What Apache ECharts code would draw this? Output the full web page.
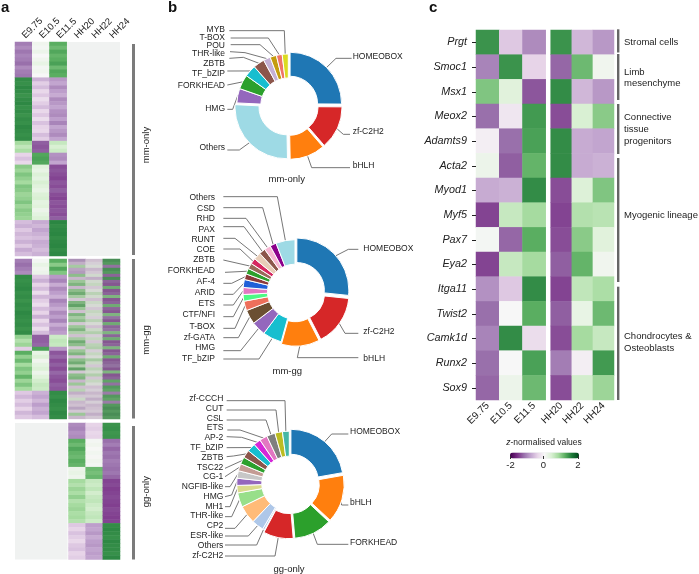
<!DOCTYPE html>
<html><head><meta charset="utf-8">
<script src="https://cdn.jsdelivr.net/npm/echarts@6/dist/echarts.min.js"></script>
<style>html,body{margin:0;padding:0;background:#fff}#c{width:699px;height:574px}</style></head>
<body><div id="c"></div>
<script>
// ---------- panel c data ----------
const genes = ['Prgt','Smoc1','Msx1','Meox2','Adamts9','Acta2','Myod1','Myf5','Pax7','Eya2','Itga11','Twist2','Camk1d','Runx2','Sox9'];
const mouseStages = ['E9.75','E10.5','E11.5'];
const chickStages = ['HH20','HH22','HH24'];
const cE975 = [1.4,-1.05,1.0,-1.2,-0.1,0.15,-0.75,-1.45,0.05,-1.45,-0.95,-1.2,-1.05,-1.2,-1.25];
const cE105 = [-0.5,1.4,0.3,-0.2,-1.2,-1.3,-0.7,0.55,-1.25,0.55,-0.5,0,1.45,0,0.15];
const cE115 = [-1.0,-0.4,-1.35,1.35,1.3,1.15,1.45,0.8,1.2,0.8,1.45,1.2,-0.3,1.3,1.1];
const cHH20 = [1.4,-1.25,1.45,-1.4,1.45,1.45,-1.4,-1.45,-1.4,-1.3,-1.45,-1.3,-1.4,-1.1,-1.4];
const cHH22 = [-0.65,1.1,-0.65,0.4,-0.75,-0.75,0.35,0.7,0.95,1.15,0.6,0.2,0.8,-0.1,0.45];
const cHH24 = [-0.9,0.1,-0.9,0.95,-0.8,-0.7,1.0,0.65,0.3,0.1,0.75,1.1,0.55,1.35,0.85];

// ---------- panel a data, top to bottom ----------
const mmOnlyE975 = [-1.1,-1.0,-1.15,-1.05,-1.1,-1.2,-1.0,-1.1,-1.15,
 1.45,1.42,1.48,1.45,1.4,1.45,1.48,1.42,1.45,1.4,1.45,1.42,1.48,1.45,1.42,1.45,
 0.8,0.6,0.75, -0.4,-0.55,-0.35,
 0.95,0.85,1.0,0.9,0.8,1.0,0.95,0.85,0.9,1.0,0.85,0.95,0.9,0.85,
 -0.6,-0.7,-0.5,-0.65,-0.55,-0.7,-0.5,-0.75,-0.6];
const mmOnlyE105 = [0.1,0.05,0.15,0,0.1,0.2,0.05,0.1,0,
 -0.7,-0.45,-0.6,-0.35,-0.5,-0.3,-0.45,-0.6,-0.35,-0.5,-0.3,-0.55,-0.4,-0.35,-0.6,-0.45,
 -1.3,-1.35,-1.3, 1.25,1.3,1.25,
 0.3,0.2,0.35,0.25,0.4,0.3,0.2,0.35,0.4,0.25,0.3,0.15,0.25,0.35,
 -0.75,-0.65,-0.8,-0.7,-0.6,-0.75,-0.7,-0.6,-0.7];
const mmOnlyE115 = [1.2,1.1,1.25,1.15,1.2,1.3,1.1,1.25,1.2,
 -0.9,-0.8,-1.0,-0.85,-0.75,-1.0,-0.9,-0.8,-0.95,-1.0,-0.85,-1.05,-0.8,-0.9,-1.0,-0.8,
 0.55,0.4,0.5, -0.95,-1.0,-0.8,
 -1.4,-1.35,-1.4,-1.45,-1.35,-1.4,-1.3,-1.4,-1.45,-1.35,-1.4,-1.35,-1.4,-1.3,
 1.5,1.45,1.48,1.5,1.45,1.48,1.5,1.45,1.48];

const mmGgE975 = [-1.1,-1.2,-1.1,-1.0,
 1.45,1.42,1.45,1.48,1.42,1.45,1.4,1.45,1.42,1.48,1.45,1.42,1.45,1.4,1.45,
 0.9,0.7,0.85, -0.45,
 1.2,0.9,1.1,0.8,1.0,0.9,1.15,0.85,1.0,0.8,
 -0.5,-0.65,-0.45,-0.6,-0.4,-0.65,-0.5];
const mmGgE105 = [0.05,0.2,0.1,0.15,
 -0.5,-0.7,-0.4,-0.6,-0.3,-0.65,-0.45,-0.3,-0.6,-0.4,-0.7,-0.35,-0.55,-0.3,-0.6,
 -1.3,-1.3,-1.25, 1.3,
 0.2,0.35,0.1,0.25,0.35,0.15,0.3,0.45,0.55,0.5,
 -0.7,-0.8,-0.65,-0.85,-0.7,-0.8,-0.6];
const mmGgE115 = [1.2,0.95,1.25,1.0,
 -0.9,-1.05,-0.75,-1.0,-0.85,-0.7,-1.05,-0.9,-0.75,-1.0,-0.85,-1.05,-0.75,-0.95,-0.85,
 0.5,0.6,0.55, -0.9,
 -1.35,-1.25,-1.4,-1.3,-1.4,-1.25,-1.35,-1.4,-1.3,-1.35,
 1.45,1.42,1.48,1.45,1.42,1.48,1.45];
const mmGgHH20 = [-0.9,-0.6,0.7,-0.7,-0.8,0.9,-0.5,0.8,1.0,-0.5,0.9,1.1,0.7,-0.3,1.0,1.2,0.8,-0.4,1.0,0.7,0.9,-0.3,0.8,1.0,0.6,-0.4,0.7,
 1.1,0.9,-0.3,0.8,1.0,-0.4,0.9,1.1,0.6,1.2,-0.3,0.9,1.0,-0.5,0.8,-0.4,0.5,-0.6,-0.3,0.3,-0.5,-0.4,-0.7,-0.3,0.8,-0.5];
const mmGgHH22 = [-0.4,-0.2,0.1,-0.5,-0.3,0.2,-0.6,0.2,0.4,-0.3,0.1,0.5,0.2,-0.4,0.3,0.1,-0.3,0.4,0.2,-0.2,0.5,0.1,-0.4,0.3,0.6,-0.2,0.4,
 -0.3,0.5,0.6,-0.2,0.4,0.1,0.7,0.3,-0.3,0.5,0.2,0.6,-0.3,0.4,0.1,-0.4,-0.2,-0.5,-0.3,-0.6,-0.2,-0.5,-0.4,-0.3,-0.6,-0.3];
const mmGgHH24 = [1.4,1.3,-1.2,1.4,1.3,-1.3,1.4,-1.3,-1.4,1.1,-1.4,-1.3,1.0,-1.4,-1.3,1.1,-1.3,-1.4,1.0,-1.2,-1.4,1.1,-1.3,-1.2,1.0,-1.3,1.1,
 -1.4,-1.3,1.0,-1.4,-1.3,1.1,-1.4,-1.3,-1.2,-1.4,1.0,-1.4,-1.3,1.2,-1.2,1.3,1.2,-1.1,1.3,1.2,-1.1,1.3,1.4,1.3,1.4,1.3];

const ggOnlyHH20 = [-1.0,-1.05,-0.95,-1.0,
 1.2,1.1,1.25,1.15,1.1,1.2,1.15,
 0.15,0.2,0.12,
 0.8,0.7,0.85,0.75,0.9,0.7,0.8,0.85,0.75,0.8,0.7,
 -0.5,-0.4,-0.55,-0.45,-0.35,-0.5,-0.55,-0.4,-0.45];
const ggOnlyHH22 = [-0.4,-0.45,-0.35,-0.4,
 0.05,0.1,0.02,0.08,0.03,0.1,0.05,
 1.1,1.05,1.12,
 0.55,0.5,0.6,0.45,0.55,0.6,0.5,0.45,0.55,0.6,0.5,
 -0.85,-0.8,-0.9,-0.75,-0.85,-0.9,-0.8,-0.85,-0.8];
const ggOnlyHH24 = [1.4,1.42,1.38,1.4,
 -1.2,-1.1,-1.25,-1.15,-1.2,-1.1,-1.15,
 -1.2,-1.15,-1.25,
 -1.45,-1.42,-1.48,-1.45,-1.42,-1.45,-1.48,-1.42,-1.45,-1.48,-1.45,
 1.45,1.48,1.45,1.42,1.48,1.45,1.45,1.42,1.48];

// ---------- panel b data (percent of each donut, clockwise from the top) ----------
const mmOnlyFamilies = ['HOMEOBOX','zf-C2H2','bHLH','Others','HMG','FORKHEAD','TF_bZIP','ZBTB','THR-like','POU','T-BOX','MYB'];
const mmOnlyShares = [25,13.5,11,26,4.5,4.5,3.7,3.5,2.2,2,1.8,1.9];
const mmGgFamilies = ['HOMEOBOX','zf-C2H2','bHLH','TF_bZIP','HMG','zf-GATA','T-BOX','CTF/NFI','ETS','ARID','AF-4','FORKHEAD','ZBTB','COE','RUNT','PAX','RHD','CSD','Others'];
const mmGgShares = [27,16,12,6,4.5,4.5,3,2.1,2.2,2.5,1.8,1.8,1.8,1.8,2.3,2,2,2,6];
const ggOnlyFamilies = ['HOMEOBOX','bHLH','FORKHEAD','zf-C2H2','Others','ESR-like','CP2','THR-like','MH1','HMG','NGFIB-like','CG-1','TSC22','ZBTB','TF_bZIP','AP-2','ETS','CSL','CUT','zf-CCCH'];
const ggOnlyShares = [22.2,14.7,11.7,9.2,0.6,3.7,5.6,4.4,2.3,2.2,2.3,2.2,2.2,2.4,2.6,2.2,2.4,2.6,2.3,2.1];

// ---------- colours ----------
const PRGn = ['#40004b','#762a83','#9970ab','#c2a5cf','#e7d4e8','#f7f7f7','#d9f0d3','#a6dba0','#5aae61','#1b7837','#00441b'];
const mmOnlyColors = ['#1f77b4','#d62728','#ff7f0e','#9edae5','#9467bd','#2ca02c','#17becf','#8c564b','#c5b0d5','#c49c0e','#ef7565','#dbdb20'];
const mmGgColors = ['#1f77b4','#d62728','#ff7f0e','#17becf','#9467bd','#6b4f32','#ee6f5b','#4dfa85','#e377c2','#1f5fd8','#8c3a3a','#2ca02c','#9a6a5a','#d62760','#e8cdb8','#8c564b','#f7b6d2','#8b008b','#9edae5'];
const ggOnlyColors = ['#1f77b4','#ff7f0e','#2ca02c','#d62728','#aec7e8','#aec7e8','#ffbb78','#98df8a','#dbdb8d','#9467bd','#c7c7c7','#c49c94','#2ca02c','#8c564b','#17becf','#d528d8','#e377c2','#7f7f7f','#bcbd22','#45b8a5'];

// ---------- label layout: [side, labelX, labelY, elbowX, elbowY, lineEndX, lineEndY] in sketch units (3 = 1 px) ----------
const mmOnlyPlace = [
 ['l',548,170,498,175,545,175],['l',548,395,520,403,540,403],['l',548,497,425,503,540,503],
 ['r',165,443,208,450,172,450],['r',165,325,188,328,172,328],['r',165,256,null,null,172,255],
 ['r',165,222,null,null,172,213],['r',165,190,220,172,178,175],['r',165,160,225,158,180,155],
 ['r',165,138,270,134,182,134],['r',165,114,295,114,182,114],['r',165,88,343,92,178,92]];
const mmGgPlace = [
 ['l',580,190,535,193,565,193],['l',580,440,525,445,565,445],['l',580,520,382,518,565,518],
 ['r',135,520,267,522,160,522],['r',135,487,212,497,160,497],['r',135,457,205,458,160,458],
 ['r',135,424,195,430,160,430],['r',135,390,190,395,160,395],['r',135,357,190,360,160,360],
 ['r',135,324,190,328,160,328],['r',135,291,185,295,160,295],['r',135,257,null,null,165,262],
 ['r',135,224,null,null,160,225],['r',135,195,210,192,160,192],['r',135,164,195,160,160,160],
 ['r',135,134,222,125,160,125],['r',135,102,228,100,160,100],['r',135,70,278,68,160,68],['r',135,38,322,35,160,35]];
const ggOnlyPlace = [
 ['l',540,155,485,162,535,162],['l',540,368,515,375,535,375],['l',540,487,442,493,535,493],
 ['r',160,528,315,528,165,528],['r',160,497,260,495,165,495],['r',160,468,235,468,165,468],
 ['r',160,438,195,445,165,445],['r',160,408,185,410,165,410],['r',160,380,180,380,165,380],
 ['r',160,350,185,345,165,350],['r',160,320,180,320,165,320],['r',160,291,null,null,165,290],
 ['r',160,262,null,null,165,265],['r',160,232,190,228,170,230],['r',160,202,null,null,170,203],
 ['r',160,173,215,172,170,170],['r',160,143,210,150,172,150],['r',160,115,288,120,170,120],
 ['r',160,85,318,90,170,90],['r',160,55,345,62,170,62]];

// ---------- helpers ----------
const FONT = '"Liberation Sans", Arial, sans-serif';
const TXT = '#222';
const rows = n => Array.from({length:n},(_,i)=>String(i));
function cells(cols){const out=[];cols.forEach((c,i)=>c.forEach((v,j)=>out.push([i,j,v])));return out;}

const grids = [
 {left:15,top:42,width:51.7,height:214},
 {left:67,top:42,width:53,height:214,show:true,backgroundColor:'#f0f2f1',borderWidth:0},
 {left:15,top:259,width:51.7,height:160},
 {left:68.5,top:259,width:51.5,height:160},
 {left:15,top:423,width:52.5,height:136.5,show:true,backgroundColor:'#f0f2f1',borderWidth:0},
 {left:68.5,top:423,width:51.5,height:136.5},
 {left:476,top:30,width:69.7,height:370},
 {left:550.7,top:30,width:63.3,height:370}
];
const hideX=(g,d)=>({type:'category',gridIndex:g,data:d,show:false});
const hideY=(g,n)=>({type:'category',gridIndex:g,data:rows(n),inverse:true,show:false});
const topX=(g,d)=>({type:'category',gridIndex:g,data:d,position:'top',axisLine:{show:false},axisTick:{show:false},
  axisLabel:{rotate:-45,margin:5,fontSize:9.5,color:TXT,fontFamily:FONT,interval:0}});
const botX=(g,d)=>({type:'category',gridIndex:g,data:d,position:'bottom',axisLine:{show:false},axisTick:{show:false},
  axisLabel:{rotate:45,margin:4,fontSize:10,color:TXT,fontFamily:FONT,interval:0}});

const heat=(g,cols)=>({type:'heatmap',xAxisIndex:g,yAxisIndex:g,data:cells(cols),silent:true,progressive:0,
  emphasis:{disabled:true},itemStyle:{borderWidth:0}});

const heatSeries = [
 heat(0,[mmOnlyE975,mmOnlyE105,mmOnlyE115]),
 heat(2,[mmGgE975,mmGgE105,mmGgE115]),
 heat(3,[mmGgHH20,mmGgHH22,mmGgHH24]),
 heat(5,[ggOnlyHH20,ggOnlyHH22,ggOnlyHH24]),
 heat(6,[cE975,cE105,cE115]),
 heat(7,[cHH20,cHH22,cHH24])
];

// Two pies per donut: the visible wedges (big ones pulled out), and an invisible copy that carries labels and leaders.
function donut(names,vals,colors,place,ox,oy,cx,cy,r,explode){
 const P=(u,o)=>o+u/3;
 const wedges={type:'pie',center:[cx,cy],radius:[27.5,r],startAngle:90,silent:true,avoidLabelOverlap:false,
  selectedMode:'multiple',selectedOffset:2.5,animation:false,
  itemStyle:{borderColor:'#fff',borderWidth:1},label:{show:false},labelLine:{show:false},
  data:names.map((n,i)=>({name:n,value:vals[i],selected:i<explode,itemStyle:{color:colors[i]}}))};
 const leaders={type:'pie',center:[cx,cy],radius:[27.5,r],startAngle:90,silent:true,avoidLabelOverlap:false,animation:false,
  itemStyle:{color:'rgba(0,0,0,0)',borderWidth:0},
  label:{show:true,position:'outside',fontSize:8.5,color:TXT,fontFamily:FONT,alignTo:'none'},
  labelLine:{show:true,lineStyle:{color:'#666',width:0.9},length:5,length2:5},
  data:names.map((n,i)=>({name:n,value:vals[i]})),
  labelLayout:function(p){
    const q=place[p.dataIndex],start=p.labelLinePoints?p.labelLinePoints[0]:[cx,cy];
    const pts=[start];
    if(q[3]!==null)pts.push([P(q[3],ox),P(q[4],oy)]);
    pts.push([P(q[5],ox),P(q[6],oy)]);
    return {x:P(q[1],ox),y:P(q[2],oy),align:q[0]==='l'?'left':'right',verticalAlign:'middle',labelLinePoints:pts};
  }};
 return [wedges,leaders];
}
const pieSeries = [].concat(
 donut(mmOnlyFamilies,mmOnlyShares,mmOnlyColors,mmOnlyPlace,170,0,288.3,105.5,51.5,4),
 donut(mmGgFamilies,mmGgShares,mmGgColors,mmGgPlace,170,185,295,291.7,52,3),
 donut(ggOnlyFamilies,ggOnlyShares,ggOnlyColors,ggOnlyPlace,170,380,289.3,483.7,52.5,4)
);

const T=(x,y,s,o)=>Object.assign({type:'text',x:x,y:y,z:50,style:Object.assign({text:s,font:'9.5px '+FONT,fill:TXT,textAlign:'left',textVerticalAlign:'middle'},o||{})});
const bold=(x,s)=>({type:'text',x:x,y:15,z:50,style:{text:s,font:'bold 15px '+FONT,fill:'#111',textAlign:'left',textVerticalAlign:'bottom'}});
const V=(x,y0,y1,w,col)=>({type:'rect',z:50,shape:{x:x,y:y0,width:w,height:y1-y0},style:{fill:col}});
const rotT=(x,y,s)=>({type:'text',x:x,y:y,rotation:Math.PI/2,z:50,style:{text:s,font:'9.5px '+FONT,fill:TXT,textAlign:'center',textVerticalAlign:'middle'}});

const graphics = [
 bold(1,'a'),bold(168,'b'),bold(429,'c'),
 V(132,44,255,3,'#7b7b7b'),V(132,259,418.5,3,'#7b7b7b'),V(132,426,559.5,3,'#7b7b7b'),
 rotT(146,145,'mm-only'),rotT(146,340,'mm-gg'),rotT(146,491.7,'gg-only'),
 {type:'rect',z:40,shape:{x:68.5,y:259,width:51.5,height:160},style:{fill:'rgba(125,125,125,0.22)'}},
 T(286.7,179,'mm-only',{textAlign:'center'}),T(287.3,371.7,'mm-gg',{textAlign:'center'}),T(289,569,'gg-only',{textAlign:'center'}),
 V(617,29.3,52.5,2.4,'#666'),V(617,54,100,2.4,'#666'),V(617,104,154,2.4,'#666'),V(617,158,282,2.4,'#666'),V(617,286.7,400,2.4,'#666'),
 T(624,42.7,'Stromal cells'),T(624,72,'Limb'),T(624,83.5,'mesenchyme'),
 T(624,117,'Connective'),T(624,129,'tissue'),T(624,141,'progenitors'),T(624,215,'Myogenic lineage'),
 T(624,336.7,'Chondrocytes &'),T(624,348.5,'Osteoblasts'),
 {type:'text',x:544,y:442.7,z:50,style:{text:'{i|z}{n|-normalised values}',textAlign:'center',textVerticalAlign:'middle',fill:TXT,
   rich:{i:{font:'italic 8.5px '+FONT,fill:TXT},n:{font:'8.5px '+FONT,fill:TXT}}}},
 V(510,456,459,1,'#333'),V(543,456,459,1,'#333'),V(578,456,459,1,'#333'),
 T(510.5,465.5,'-2',{textAlign:'center'}),T(543.5,465,'0',{textAlign:'center'}),T(578,465,'2',{textAlign:'center'})
];

const option = {
 animation:false,backgroundColor:'#fff',textStyle:{fontFamily:FONT},
 grid:grids,
 xAxis:[topX(0,mouseStages),topX(1,chickStages),hideX(2,mouseStages),hideX(3,chickStages),hideX(4,mouseStages),hideX(5,chickStages),botX(6,mouseStages),botX(7,chickStages)],
 yAxis:[hideY(0,mmOnlyE975.length),hideY(1,1),hideY(2,mmGgE975.length),hideY(3,mmGgHH20.length),hideY(4,1),hideY(5,ggOnlyHH20.length),
  {type:'category',gridIndex:6,data:genes,inverse:true,axisLine:{show:false},axisTick:{show:false},
   axisLabel:{fontSize:10.8,fontStyle:'italic',color:TXT,fontFamily:FONT,margin:9,interval:0}},
  {type:'category',gridIndex:7,data:genes,inverse:true,show:false}],
 visualMap:{type:'continuous',min:-2,max:2,seriesIndex:[0,1,2,3,4,5],orient:'horizontal',left:510,top:452.5,padding:0,
  itemWidth:6,itemHeight:69,calculable:false,text:null,showLabel:false,inRange:{color:PRGn},hoverLink:false},
 series:heatSeries.concat(pieSeries),
 graphic:{elements:graphics}
};
const chart = echarts.init(document.getElementById('c'),null,{renderer:'canvas'});
chart.setOption(option);
// Gene ticks follow the y axis scale of panel c.
const geneTicks = genes.map(g=>{
  const y=chart.convertToPixel({yAxisIndex:6},g);
  return {type:'rect',z:50,shape:{x:472,y:Math.round(y),width:4,height:1},style:{fill:'#222'}};
});
chart.setOption({graphic:{elements:graphics.concat(geneTicks)}});
</script></body></html>
